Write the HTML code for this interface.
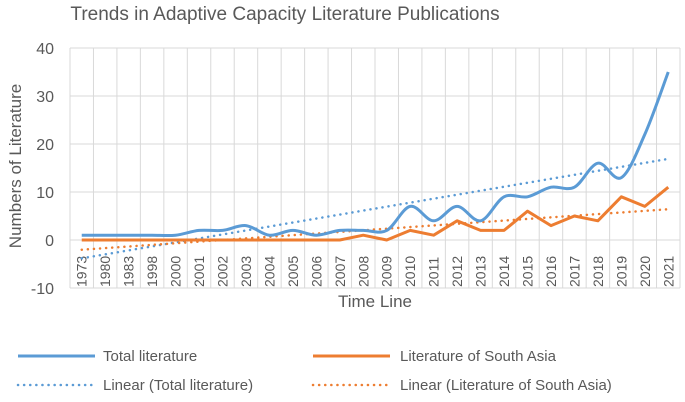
<!DOCTYPE html>
<html><head><meta charset="utf-8"><style>
body{margin:0;background:#fff;font-family:"Liberation Sans",sans-serif;}
svg{display:block}
text{fill:#595959;font-family:"Liberation Sans",sans-serif}
</style></head><body>
<svg id="c" width="685" height="402"></svg>
<script>
const categories=["1973","1980","1983","1998","2000","2001","2002","2003","2004","2005","2006","2007","2008","2009","2010","2011","2012","2013","2014","2015","2016","2017","2018","2019","2020","2021"];
const totalValues=[1,1,1,1,1,2,2,3,1,2,1,2,2,2,7,4,7,4,9,9,11,11,16,13,22,35];
const southAsiaValues=[0,0,0,0,0,0,0,0,0,0,0,0,1,0,2,1,4,2,2,6,3,5,4,9,7,11];
const yTicks=[-10,0,10,20,30,40];
const NS="http://www.w3.org/2000/svg",svg=document.getElementById('c');
const L=70,R=680,T=48,B=288,yMin=-10,yMax=40;
const bw=(R-L)/categories.length;
const x=i=>L+bw*(i+0.5), y=v=>T+(yMax-v)/(yMax-yMin)*(B-T);
function el(t,a,p){const e=document.createElementNS(NS,t);for(const k in a)e.setAttribute(k,a[k]);(p||svg).appendChild(e);return e;}
// gridlines
yTicks.forEach(v=>{const g=el('line',{x1:L,x2:R,y1:y(v),y2:y(v),stroke:'#d9d9d9','stroke-width':1});


const t=el('text',{x:L-16,y:y(v)+6,'text-anchor':'end','font-size':16});t.textContent=v;

});
for(let i=0;i<=categories.length;i++){const g=el('line',{x1:L+bw*i,x2:L+bw*i,y1:T,y2:B,stroke:'#d9d9d9','stroke-width':1});

}
categories.forEach((c,i)=>{const t=el('text',{transform:`translate(${x(i)+5},${B-1}) rotate(-90)`,'font-size':14});t.textContent=c;

});
// trendlines
function trend(vals,color,name){const n=vals.length;let sx=0,sy=0,sxx=0,sxy=0;vals.forEach((v,i)=>{const k=i+1;sx+=k;sy+=v;sxx+=k*k;sxy+=k*v;});
const m=(n*sxy-sx*sy)/(n*sxx-sx*sx),b=(sy-m*sx)/n;
const l=el('line',{x1:x(0),y1:y(m+b),x2:x(n-1),y2:y(m*n+b),stroke:color,'stroke-width':2.5,'stroke-dasharray':'0.1 6','stroke-linecap':'round'});

}
trend(totalValues,'#5b9bd5','trend-total');
trend(southAsiaValues,'#ed7d31','trend-south-asia');
// series
function smooth(vals){const p=vals.map((v,i)=>[x(i),y(v)]);let d=`M${p[0][0]},${p[0][1]}`;
for(let i=0;i<p.length-1;i++){const p0=p[i-1]||p[i],p1=p[i],p2=p[i+1],p3=p[i+2]||p2;
d+=` C${p1[0]+(p2[0]-p0[0])/6},${p1[1]+(p2[1]-p0[1])/6} ${p2[0]-(p3[0]-p1[0])/6},${p2[1]-(p3[1]-p1[1])/6} ${p2[0]},${p2[1]}`;}return d;}
const st=el('path',{d:southAsiaValues.map((v,i)=>(i?'L':'M')+x(i)+','+y(v)).join(' '),fill:'none',stroke:'#ed7d31','stroke-width':3,'stroke-linejoin':'round'});


const tt=el('path',{d:smooth(totalValues),fill:'none',stroke:'#5b9bd5','stroke-width':3});


</script>
<svg width="685" height="402" style="position:absolute;left:0;top:0">
<text x="285" y="20" text-anchor="middle" font-size="19">Trends in Adaptive Capacity Literature Publications</text>
<text transform="translate(21,166) rotate(-90)" text-anchor="middle" font-size="17">Numbers of Literature</text>
<text x="375" y="307" text-anchor="middle" font-size="17">Time Line</text>
<g>
<line x1="18" x2="95" y1="356" y2="356" stroke="#5b9bd5" stroke-width="3"/>
<text x="103" y="361" font-size="15">Total literature</text>
<line x1="313" x2="390" y1="356" y2="356" stroke="#ed7d31" stroke-width="3"/>
<text x="400" y="361" font-size="15">Literature of South Asia</text>
<line x1="18" x2="95" y1="385" y2="385" stroke="#5b9bd5" stroke-width="2.5" stroke-dasharray="0.1 6" stroke-linecap="round"/>
<text x="103" y="390" font-size="15">Linear (Total literature)</text>
<line x1="313" x2="390" y1="385" y2="385" stroke="#ed7d31" stroke-width="2.5" stroke-dasharray="0.1 6" stroke-linecap="round"/>
<text x="400" y="390" font-size="15">Linear (Literature of South Asia)</text>
</g>
</svg>
</body></html>
